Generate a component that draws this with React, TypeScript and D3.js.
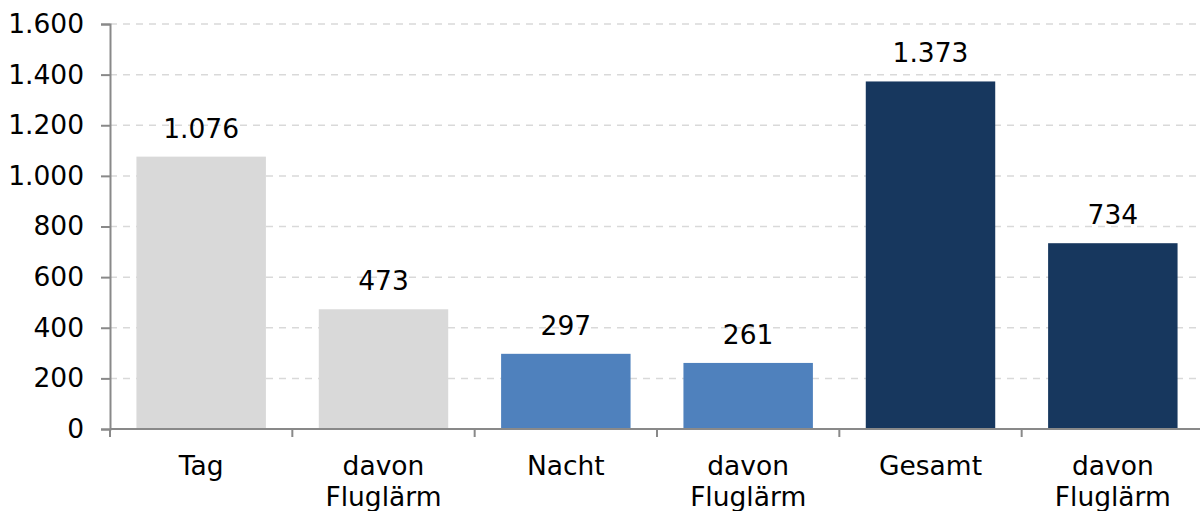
import React, { useRef, useEffect } from "react";
import * as d3 from "d3";

const categories = ["Tag", "davon\nFluglärm", "Nacht", "davon\nFluglärm", "Gesamt", "davon\nFluglärm"];
const values = [1076, 473, 297, 261, 1373, 734];
const groups = ["tag", "tag", "nacht", "nacht", "gesamt", "gesamt"];
const yTicks = [0, 200, 400, 600, 800, 1000, 1200, 1400, 1600];

const colors: Record<string, string> = { tag: "#d9d9d9", nacht: "#4f81bd", gesamt: "#17375e" };

const App = () => {
  const svgRef = useRef<SVGSVGElement | null>(null);

  useEffect(() => {
    const width = 1200;
    const height = 511;
    const left = 110;
    const top = 24;
    const bottom = 429;
    const right = 1204;
    const font = "DejaVu Sans, Verdana, sans-serif";
    const fontSize = 26.5;

    const svg = d3.select(svgRef.current).attr("width", width).attr("height", height);
    svg.selectAll("*").remove();

    const fmt = (v: number) => d3.format(",")(v).replace(/,/g, ".");

    const x = d3.scaleBand<number>()
      .domain(d3.range(categories.length))
      .range([left, right])
      .paddingInner(0.29)
      .paddingOuter(0.145);

    const y = d3.scaleLinear().domain([0, 1600]).range([bottom, top]);

    // gridlines
    svg.append("g")
      .selectAll("line")
      .data(yTicks.filter(t => t > 0))
      .enter()
      .append("line")
      .attr("x1", left)
      .attr("x2", width)
      .attr("y1", d => y(d))
      .attr("y2", d => y(d))
      .attr("stroke", "#d9d9d9")
      .attr("stroke-width", 1.5)
      .attr("stroke-dasharray", "7,6");

    // bars
    svg.append("g")
      .selectAll("rect")
      .data(values)
      .enter()
      .append("rect")
      .attr("x", (d, i) => x(i)!)
      .attr("width", x.bandwidth())
      .attr("y", d => y(d))
      .attr("height", d => y(0) - y(d))
      .attr("fill", (d, i) => colors[groups[i]]);

    // value labels
    svg.append("g")
      .selectAll("text")
      .data(values)
      .enter()
      .append("text")
      .attr("x", (d, i) => x(i)! + x.bandwidth() / 2)
      .attr("y", d => y(d) - 19)
      .attr("text-anchor", "middle")
      .attr("font-family", font)
      .attr("font-size", fontSize)
      .attr("fill", "#000")
      .text(d => fmt(d));

    // y axis
    const yAxis = svg.append("g")
      .attr("transform", `translate(${left},0)`)
      .call(d3.axisLeft(y).tickValues(yTicks).tickSize(9).tickPadding(17).tickFormat(d => fmt(+d)));
    yAxis.select(".domain").attr("stroke", "#898989").attr("stroke-width", 2);
    yAxis.selectAll(".tick line").attr("stroke", "#898989").attr("stroke-width", 2);
    yAxis.selectAll(".tick text")
      .attr("font-family", font)
      .attr("font-size", fontSize)
      .attr("fill", "#000");

    // x axis line and ticks
    const step = x.step();
    const tickXs = d3.range(categories.length + 1).map(i => left + i * step);
    svg.append("line")
      .attr("x1", left)
      .attr("x2", width)
      .attr("y1", bottom)
      .attr("y2", bottom)
      .attr("stroke", "#898989")
      .attr("stroke-width", 2);
    svg.append("g")
      .selectAll("line")
      .data(tickXs)
      .enter()
      .append("line")
      .attr("x1", d => d)
      .attr("x2", d => d)
      .attr("y1", bottom)
      .attr("y2", bottom + 8)
      .attr("stroke", "#898989")
      .attr("stroke-width", 2);

    // category labels
    const cat = svg.append("g")
      .selectAll("text")
      .data(categories)
      .enter()
      .append("text")
      .attr("text-anchor", "middle")
      .attr("font-family", font)
      .attr("font-size", fontSize)
      .attr("fill", "#000");
    cat.each(function (d, i) {
      const cx = x(i)! + x.bandwidth() / 2;
      d.split("\n").forEach((line, j) => {
        d3.select(this)
          .append("tspan")
          .attr("x", cx)
          .attr("y", 475 + j * 31)
          .text(line);
      });
    });
  }, []);

  return <svg ref={svgRef} style={{ position: "absolute", left: 0, top: 0 }} />;
};

export default App;
